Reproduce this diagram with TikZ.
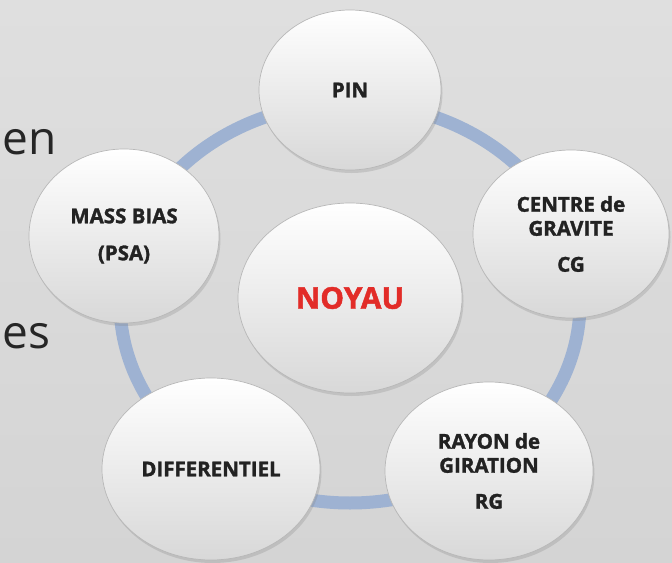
\documentclass[tikz,border=0pt]{standalone}
\usepackage{fontspec}
\setmainfont{Open Sans}[BoldFeatures={FakeBold=1.5}]
\usetikzlibrary{shapes.geometric,shadows}
\definecolor{bgtop}{RGB}{223,223,223}
\definecolor{bgbot}{RGB}{212,212,212}
\definecolor{band}{RGB}{158,178,210}
\definecolor{txt}{RGB}{34,34,34}
\definecolor{noyaured}{RGB}{226,44,40}
\definecolor{ballbot}{RGB}{216,216,216}
\tikzset{
  % Kugeln
  ball/.style={ellipse, inner sep=0pt, draw=black!28, line width=0.7bp,
    top color=white, bottom color=ballbot,
    drop shadow={shadow xshift=1.5bp, shadow yshift=-3bp, opacity=0.25},
    align=center, text=txt, font=\bfseries\fontsize{20.5bp}{24bp}\selectfont},
  % Ring hinter den Kugeln
  ring/.style={band, line width=13bp},
  % Folientext am linken Rand
  slide/.style={anchor=base west, text=black!85, font=\fontsize{46bp}{48bp}\selectfont},
}
\begin{document}
\begin{tikzpicture}[x=1bp, y=-1bp]
  \useasboundingbox (0,0) rectangle (672,563);
  \clip (0,0) rectangle (672,563);
  \fill[top color=bgtop, bottom color=bgbot] (0,0) rectangle (672,563);
  \node[slide, inner sep=0pt] (en) at (2,155) {en};
  \node[slide, inner sep=0pt] (es) at (2,348) {es};
  \coordinate (mid) at (350,303);
  \draw[ring] (mid) ellipse [x radius=230, y radius=200];
  \node[ball, minimum width=182bp, minimum height=160bp] (pin) at (350,90) {PIN};
  \node[ball, minimum width=196bp, minimum height=168bp] (cg) at (571,234) {CENTRE de\\GRAVITE\\[12bp]CG};
  \node[ball, minimum width=208bp, minimum height=178bp] (rg) at (489,471) {RAYON de\\GIRATION\\[12bp]RG};
  \node[ball, minimum width=218bp, minimum height=182bp] (diff) at (211,469) {DIFFERENTIEL};
  \node[ball, minimum width=190bp, minimum height=174bp] (psa) at (124,236) {MASS BIAS\\[13bp](PSA)};
  \node[ball, minimum width=224bp, minimum height=190bp, text=noyaured,
    font=\bfseries\fontsize{30bp}{32bp}\selectfont] (noyau) at (350,298) {NOYAU};
\end{tikzpicture}
\end{document}
